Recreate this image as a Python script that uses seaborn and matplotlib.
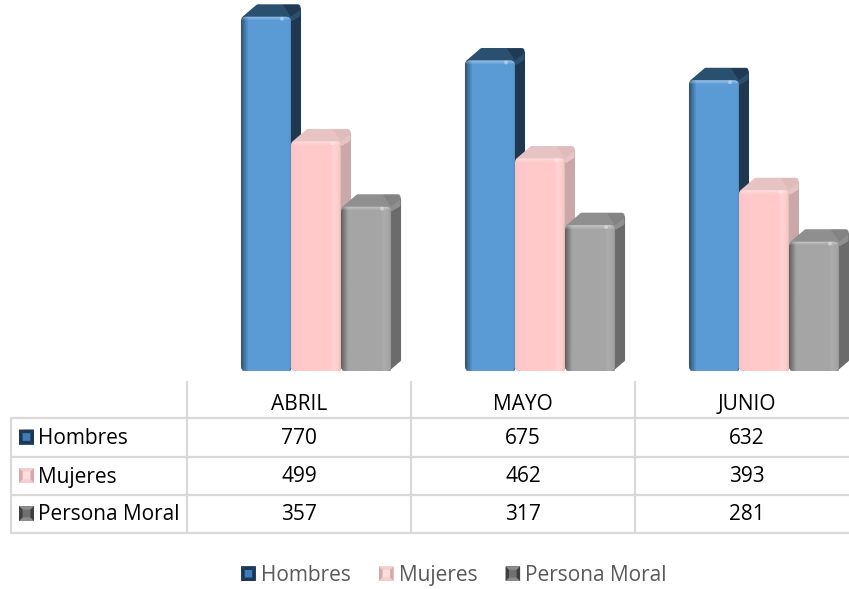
import numpy as np
import pandas as pd
import matplotlib.pyplot as plt
import seaborn as sns
from matplotlib.colors import to_rgb
from matplotlib.legend_handler import HandlerBase
from matplotlib.patches import Circle, FancyBboxPatch, Patch, Polygon
from matplotlib.transforms import IdentityTransform

meses = ["ABRIL", "MAYO", "JUNIO"]
series = ["Hombres", "Mujeres", "Persona Moral"]
hombres = [770, 675, 632]
mujeres = [499, 462, 393]
persona_moral = [357, 317, 281]

color_frente = ["#5b9bd5", "#ffc9c9", "#a5a5a5"]
color_lado = ["#1f3850", "#c9a8a8", "#6b6b6b"]
color_tapa = ["#2a5070", "#e8c3c3", "#8f8f8f"]
color_tapa2 = ["#1f3a52", "#dfbcbc", "#838383"]
# sombra del borde izquierdo y brillo cerca del borde derecho de cada serie
sombra_izq = [0.55, 0.98, 0.6]
brillo_der = [0.0, 0.2, 0.08]
# llaves biseladas: arriba/abajo, lados, centro
llave_ab = ["#1f3850", "#f2cfcf", "#8c8c8c"]
llave_lados = ["#1c3650", "#d9a9a9", "#3f3f3f"]
llave_centro = ["#3b7cbc", "#ffdcdc", "#707070"]

W, H = 849, 589
sns.set_theme(style="white")
plt.rcParams["font.family"] = ["Open Sans", "DejaVu Sans"]

df = pd.DataFrame({"mes": meses * 3,
                   "serie": np.repeat(series, 3),
                   "valor": hombres + mujeres + persona_moral})

fig = plt.figure(figsize=(W / 100, H / 100), dpi=100)
# el eje sale un poco de la figura, igual que la tabla original
ax = fig.add_axes([204 / W, (H - 371) / H, 672 / W, 371 / H])
sns.barplot(data=df, x="mes", y="valor", hue="serie", order=meses, hue_order=series,
            palette=color_frente, width=0.67, gap=0, saturation=1, legend=False, ax=ax)
ax.set_xlim(-0.5, 2.5)
ax.set_ylim(0, 371 / 0.46)
ax.set_axis_off()


def degradado(i, alto, ancho):
    base = np.array(to_rgb(color_frente[i]))
    u = np.linspace(0, 1, int(ancho))
    sombra = sombra_izq[i] + (1 - sombra_izq[i]) * np.clip(u / 0.14, 0, 1)
    sombra = sombra * (0.88 + 0.12 * np.clip((1 - u) / 0.05, 0, 1))
    img = np.ones((int(alto), int(ancho), 3)) * base * sombra[None, :, None]
    banda = brillo_der[i] * np.exp(-((u - 0.86) / 0.05) ** 2)
    img = img + (1 - img) * banda[None, :, None]
    # brillo en el borde superior
    filas = min(5, int(alto))
    brillo = np.linspace(0.35, 0, filas)[:, None, None]
    img[:filas] = img[:filas] + (1 - img[:filas]) * brillo
    return np.clip(img, 0, 1)


tr = IdentityTransform()
for i, barras in enumerate(ax.containers):
    for barra in barras:
        x0, y0 = ax.transData.transform((barra.get_x(), 0))
        x1, y1 = ax.transData.transform((barra.get_x() + barra.get_width(), barra.get_height()))
        z = 3 + i
        ax.add_patch(Polygon([(x1 - 2, y0 + 2), (x1 + 8.5, y0 + 11), (x1 + 8.5, y1 + 8), (x1 - 2, y1)],
                             closed=True, fc=color_lado[i], ec=color_lado[i], lw=2.2,
                             joinstyle="round", transform=tr, zorder=z))
        # tapa con esquinas redondeadas (borde grueso)
        ax.add_patch(Polygon([(x0 + 3, y1 - 2), (x0 + 17, y1 + 10), (x1 + 7, y1 + 10), (x1 + 7, y1 + 2), (x1, y1 - 2)],
                             closed=True, fc=color_tapa[i], ec=color_tapa[i], lw=3.6,
                             joinstyle="round", transform=tr, zorder=z))
        ax.add_patch(Polygon([(x1, y1), (x1 - 8, y1 + 12), (x1 + 7, y1 + 12), (x1 + 9, y1 + 10), (x1 + 9, y1 + 7)],
                             closed=True, fc=color_tapa2[i], ec="none", transform=tr, zorder=z))
        caja = FancyBboxPatch((x0, y0), x1 - x0, y1 - y0, boxstyle="round,pad=0,rounding_size=5",
                              fc=color_frente[i], ec="none", transform=tr, zorder=z)
        ax.add_patch(caja)
        img = ax.imshow(degradado(i, y1 - y0, x1 - x0), aspect="auto", zorder=z + 0.5,
                        extent=(barra.get_x(), barra.get_x() + barra.get_width(), 0, barra.get_height()))
        img.set_clip_path(caja)
        ax.add_patch(Circle((x1 - 9, y1 - 2), 2, fc="white", ec="none", alpha=0.35, transform=tr, zorder=z + 0.6))
ax.set_xlim(-0.5, 2.5)
ax.set_ylim(0, 371 / 0.46)


def llave(x, y, lado, i):
    b = lado * 0.24
    x2, y2 = x + lado, y + lado
    return [
        Polygon([(x, y), (x2, y), (x2, y2), (x, y2)], fc=llave_centro[i], ec="none"),
        Polygon([(x, y), (x2, y), (x2 - b, y + b), (x + b, y + b)], fc=llave_ab[i], ec="none"),
        Polygon([(x, y2), (x2, y2), (x2 - b, y2 - b), (x + b, y2 - b)], fc=llave_ab[i], ec="none"),
        Polygon([(x, y), (x + b, y + b), (x + b, y2 - b), (x, y2)], fc=llave_lados[i], ec="none"),
        Polygon([(x2, y), (x2 - b, y + b), (x2 - b, y2 - b), (x2, y2)], fc=llave_lados[i], ec="none"),
    ]


class LlaveHandler(HandlerBase):
    def create_artists(self, legend, orig_handle, xdescent, ydescent, width, height, fontsize, trans):
        i = manijas.index(orig_handle)
        partes = llave(0, (height - width) / 2, width, i)
        for p in partes:
            p.set_transform(trans)
        return partes


# tabla de datos debajo de la grafica
tab = fig.add_axes([0, 0, 1, 1], facecolor="none")
tab.set_xlim(0, W)
tab.set_ylim(H, 0)
tab.set_axis_off()

gris = "#d9d9d9"
col_x = [187, 411, 635]
fila_y = [418, 457, 495, 533]
base_y = [444, 482.5, 520.5]
for y in fila_y:
    tab.plot([11, W], [y, y], color=gris, lw=1.6, solid_capstyle="butt")
tab.plot([11, 11], [fila_y[0], fila_y[-1]], color=gris, lw=1.6)
for x in col_x:
    tab.plot([x, x], [381, fila_y[-1]], color=gris, lw=1.6, solid_capstyle="butt")

fs = 15
for j, mes in enumerate(meses):
    tab.text(col_x[j] + 112, 410.5, mes, ha="center", va="baseline", fontsize=fs, color="black")
valores = [hombres, mujeres, persona_moral]
for i, nombre in enumerate(series):
    yc = (fila_y[i] + fila_y[i + 1]) / 2 - 1
    for p in llave(19, yc - 7, 15, i):
        tab.add_patch(p)
    tab.text(38.5, base_y[i], nombre, ha="left", va="baseline", fontsize=fs, color="black")
    for j in range(3):
        tab.text(col_x[j] + 112, base_y[i], str(valores[i][j]), ha="center", va="baseline", fontsize=fs, color="black")

manijas = [Patch(label=s) for s in series]
fig.legend(manijas, series, loc="center", bbox_to_anchor=(454 / W, (H - 575.5) / H), ncol=3, frameon=False,
           fontsize=fs, labelcolor="#595959", handlelength=0.7, handleheight=0.7,
           handletextpad=0.25, columnspacing=1.35, handler_map={Patch: LlaveHandler()})

fig.savefig("out.png", dpi=100)
